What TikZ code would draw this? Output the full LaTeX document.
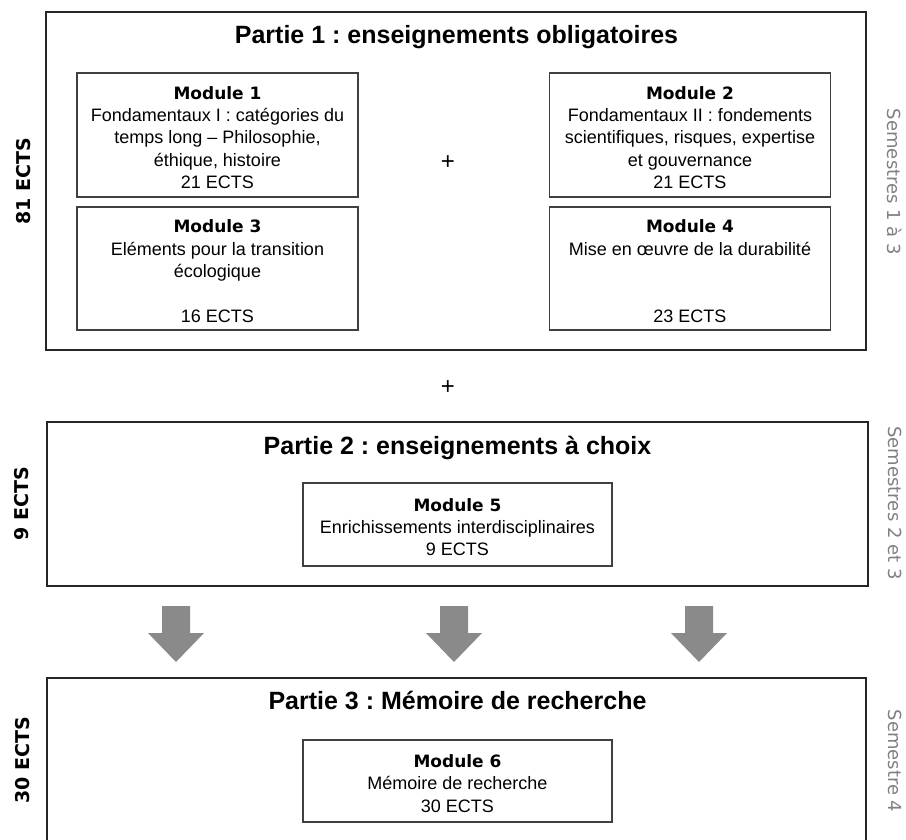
\documentclass[tikz,border=0pt]{standalone}
\usepackage{fontspec}
\setmainfont{Liberation Sans}
\newfontfamily\dejavu{DejaVu Sans}
\usetikzlibrary{shadows}
\definecolor{arrowgray}{HTML}{8A8A8A}
\definecolor{semgray}{HTML}{808080}
\newcommand{\modtitle}[1]{{\dejavu\bfseries\fontsize{17}{22.3}\selectfont\rule{0pt}{18pt}#1}}
\frenchspacing

\begin{document}
\begin{tikzpicture}[x=1pt,y=-1pt,
 partbox/.style={draw=black!85,line width=1.8pt,fill=white,inner sep=0pt,outer sep=0pt,drop shadow={shadow xshift=0.8pt,shadow yshift=-1.4pt,opacity=0.3}},
 modbox/.style={draw=black!75,line width=1.1pt,fill=white,inner sep=0pt,outer sep=0pt,align=center,font=\fontsize{18}{22.3}\selectfont,drop shadow={shadow xshift=0.8pt,shadow yshift=-1.4pt,opacity=0.35}},
 parttitle/.style={anchor=base,inner sep=0pt,font=\bfseries\fontsize{25}{25}\selectfont},
 plus/.style={font=\fontsize{24}{24}\selectfont},
 ectslab/.style={rotate=90,font=\dejavu\bfseries\fontsize{19}{19}\selectfont},
 semlab/.style={rotate=-90,text=semgray,font=\dejavu\fontsize{18}{18}\selectfont}]
\def\mwd{281};
\def\mht{124};
\clip (0,0) rectangle (906,839);

% partie 1
\node[partbox,minimum width=820,minimum height=338] (part1) at (456,181) {};
\node[parttitle] (title1) at (456.5,43) {Partie 1 : enseignements obligatoires};
\node[modbox,minimum width=\mwd,minimum height=\mht] (mod1) at (217.5,135) {\modtitle{Module 1}\\Fondamentaux I : catégories du\\temps long – Philosophie,\\éthique, histoire\\21 ECTS};
\node[modbox,minimum width=\mwd,minimum height=\mht] (mod2) at (690,135) {\modtitle{Module 2}\\Fondamentaux II : fondements\\scientifiques, risques, expertise\\et gouvernance\\21 ECTS};
\node[modbox,minimum width=\mwd,minimum height=\mht-1] (mod3) at (217.5,268.5) {\modtitle{Module 3}\\Eléments pour la transition\\écologique\\\mbox{}\\16 ECTS};
\node[modbox,minimum width=\mwd,minimum height=\mht-1] (mod4) at (690,268.5) {\modtitle{Module 4}\\Mise en œuvre de la durabilité\\\mbox{}\\\mbox{}\\23 ECTS};
\node[plus] (plusA) at (448,163) {+};
\node[ectslab] (ects1) at (24,181) {81 ECTS};
\node[semlab] (sem1) at (895,182) {Semestres 1 à 3};

\node[plus] (plusB) at (448,388) {+};

% partie 2
\node[partbox,minimum width=821,minimum height=164] (part2) at (457.5,504) {};
\node[parttitle] (title2) at (457.5,454) {Partie 2 : enseignements à choix};
\node[modbox,minimum width=309,minimum height=83] (mod5) at (457.5,524.5) {\modtitle{Module 5}\\Enrichissements interdisciplinaires\\9 ECTS};
\node[ectslab] (ects2) at (22,504) {9 ECTS};
\node[semlab] (sem2) at (895,503) {Semestres 2 et 3};

\foreach \ax in {176,454,699}
  \fill[arrowgray] (\ax-14,606) -- (\ax+14,606) -- (\ax+14,633) -- (\ax+28,633)
    -- (\ax,662) -- (\ax-28,633) -- (\ax-14,633) -- cycle;

% partie 3
\node[partbox,minimum width=819,minimum height=200] (part3) at (456.5,778) {};
\node[parttitle] (title3) at (457.5,709) {Partie 3 : Mémoire de recherche};
\node[modbox,minimum width=309,minimum height=82] (mod6) at (457.5,781) {\modtitle{Module 6}\\Mémoire de recherche\\30 ECTS};
\node[ectslab] (ects3) at (23,760) {30 ECTS};
\node[semlab] (sem3) at (895,761) {Semestre 4};
\end{tikzpicture}
\end{document}
